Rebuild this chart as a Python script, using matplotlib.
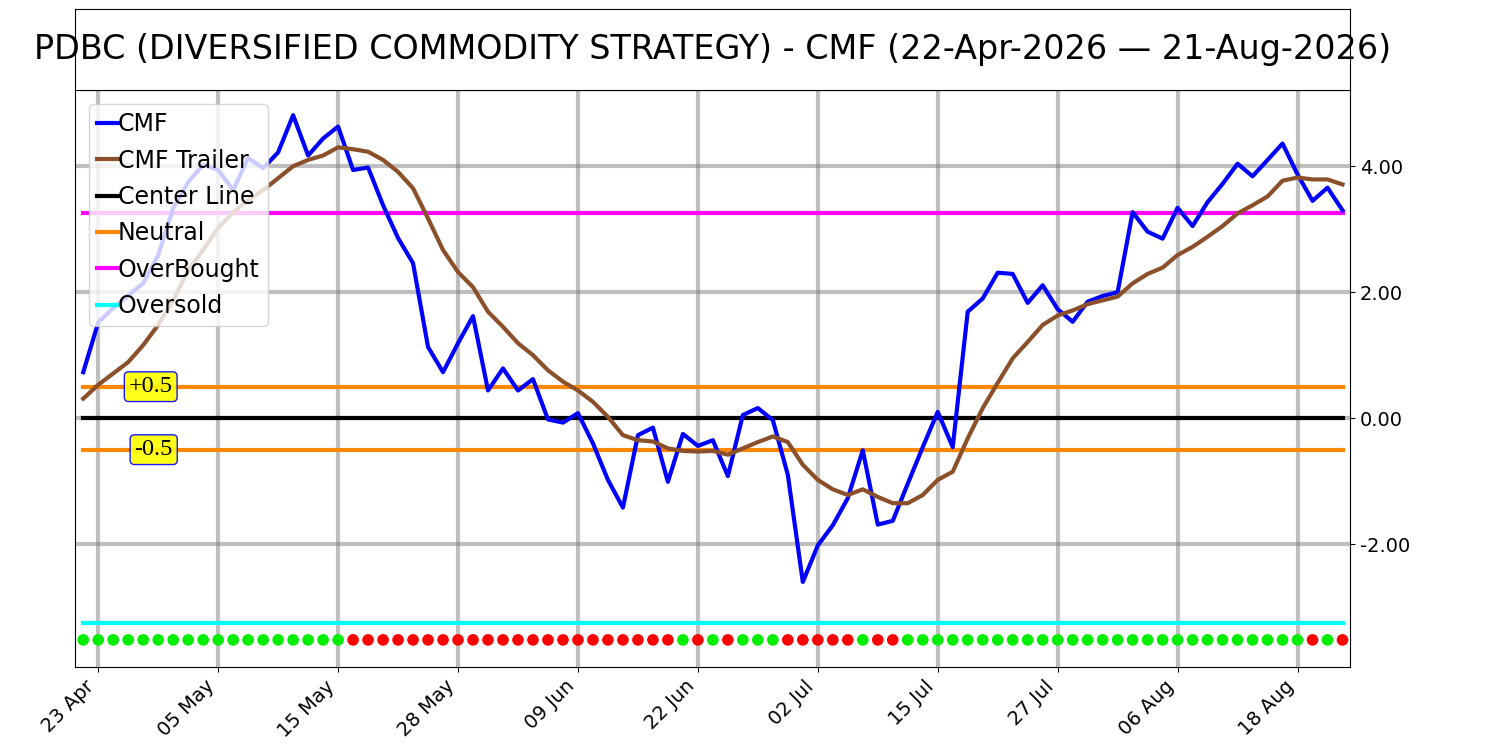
import matplotlib
matplotlib.use("Agg")
import matplotlib.pyplot as plt
import pandas as pd

# trading days 22-Apr-2026 .. 21-Aug-2026 (US market holidays removed)
holidays = ["2026-05-25", "2026-06-19", "2026-07-03"]
days = pd.bdate_range("2026-04-22", "2026-08-21", freq="C", holidays=holidays)

cmf = [0.73, 1.52, 1.75, 1.95, 2.14, 2.59, 3.33, 3.75, 4.02, 3.94,
       3.62, 4.13, 3.97, 4.22, 4.81, 4.17, 4.44, 4.63, 3.94, 3.98,
       3.38, 2.86, 2.46, 1.13, 0.73, 1.19, 1.62, 0.44, 0.79, 0.44,
       0.62, -0.02, -0.07, 0.08, -0.40, -0.98, -1.42, -0.27, -0.15, -1.01,
       -0.25, -0.44, -0.35, -0.92, 0.05, 0.16, -0.03, -0.90, -2.60, -2.02,
       -1.70, -1.27, -0.51, -1.69, -1.63, -1.04, -0.46, 0.10, -0.46, 1.69,
       1.90, 2.31, 2.29, 1.83, 2.11, 1.73, 1.53, 1.85, 1.94, 2.00,
       3.27, 2.96, 2.85, 3.34, 3.05, 3.43, 3.72, 4.04, 3.84, 4.10,
       4.36, 3.87, 3.45, 3.66, 3.30]

trailer = [0.31, 0.53, 0.71, 0.89, 1.16, 1.48, 1.87, 2.35, 2.67, 3.02,
           3.27, 3.46, 3.62, 3.81, 4.00, 4.10, 4.17, 4.30, 4.27, 4.23,
           4.10, 3.91, 3.65, 3.17, 2.67, 2.32, 2.08, 1.69, 1.45, 1.19,
           1.00, 0.76, 0.58, 0.44, 0.26, 0.02, -0.27, -0.35, -0.37, -0.48,
           -0.52, -0.53, -0.52, -0.58, -0.48, -0.38, -0.29, -0.38, -0.74, -0.98,
           -1.13, -1.22, -1.13, -1.25, -1.35, -1.35, -1.22, -0.98, -0.85, -0.32,
           0.16, 0.56, 0.95, 1.21, 1.48, 1.63, 1.71, 1.81, 1.87, 1.93,
           2.14, 2.29, 2.39, 2.59, 2.72, 2.88, 3.05, 3.25, 3.38, 3.52,
           3.77, 3.82, 3.79, 3.79, 3.71]

# 1 = green dot, 0 = red dot
signal = [1] * 18 + [0] * 22 + [1, 0, 1, 0, 1, 1, 1, 0, 0, 0, 0, 0, 1, 0, 0] + [1] * 27 + [0, 1, 0]

center = 0.0
neutral = 0.5
overbought = 3.25
oversold = -3.25
dot_level = -3.52

n = len(cmf)
x = list(range(n))

fig = plt.figure(figsize=(15, 7.5), dpi=100)
ax = fig.add_axes([0.05, 0.1107, 0.85, 0.7693])
tax = fig.add_axes([0.05, 0.88, 0.85, 0.108])
tax.set_xticks([])
tax.set_yticks([])
tax.text(0.5, 0.5, "PDBC (DIVERSIFIED COMMODITY STRATEGY) - CMF (22-Apr-2026 \u2014 21-Aug-2026)",
         ha="center", va="center", fontsize=24, transform=tax.transAxes, clip_on=False)

ax.plot(x, cmf, color="blue", lw=3, label="CMF", zorder=4)
ax.plot(x, trailer, color="#8B4F2A", lw=3, label="CMF Trailer", zorder=4)
ax.plot(x, [center] * n, color="black", lw=3, label="Center Line", zorder=3)
ax.plot(x, [neutral] * n, color="#FF8800", lw=3, label="Neutral", zorder=3)
ax.plot(x, [-neutral] * n, color="#FF8800", lw=3, zorder=3)
ax.plot(x, [overbought] * n, color="magenta", lw=3, label="OverBought", zorder=3)
ax.plot(x, [oversold] * n, color="cyan", lw=3, label="Oversold", zorder=3)

cols = ["#00ee00" if s else "red" for s in signal]
ax.scatter(x, [dot_level] * n, c=cols, s=70, zorder=5, edgecolors="none")

box = dict(boxstyle="round,pad=0.18", fc="yellow", ec="blue", alpha=0.9)
ax.text(4.5, neutral, "+0.5", ha="center", va="center", fontsize=17.5,
        family="Liberation Serif", bbox=box, zorder=6)
ax.text(4.7, -neutral, "-0.5", ha="center", va="center", fontsize=17.5,
        family="Liberation Serif", bbox=box, zorder=6)

ax.set_xlim(-0.55, 84.5)
ax.set_ylim(-3.95, 5.21)
ticks = list(range(1, n, 8))
ax.set_xticks(ticks)
ax.set_xticklabels([days[i].strftime("%d %b") for i in ticks], rotation=45, ha="right", fontsize=14)
ax.set_yticks([-2, 0, 2, 4])
ax.set_yticklabels(["%.2f" % v for v in [-2, 0, 2, 4]], fontsize=14)
ax.yaxis.tick_right()
ax.grid(True, color="gray", lw=3, alpha=0.5)
ax.set_axisbelow(True)

ax.legend(loc="upper left", fontsize=17, handlelength=0.85, handletextpad=0.0,
          labelspacing=0.52, borderaxespad=0.6, borderpad=0.35)

fig.savefig("out.png")
